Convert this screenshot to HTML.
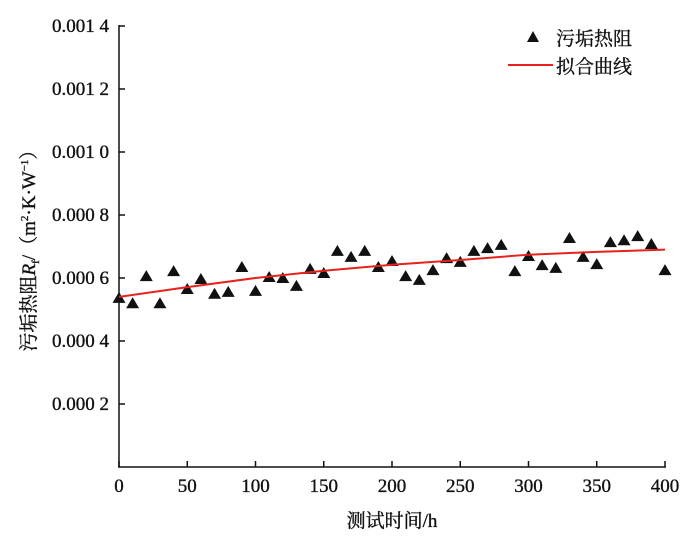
<!DOCTYPE html>
<html><head><meta charset="utf-8"><style>
body{margin:0;background:#fff}
text{font-family:"Liberation Serif","Noto Serif CJK SC",serif;fill:#111;stroke:#111;stroke-width:0.35}
</style></head><body>
<svg width="700" height="538" id="c">
<g id="axes"></g><g id="marks"></g>
<g>
<polygon points="533,31 527,42 539,42" fill="#111"/>
<text x="556" y="45" font-size="19">污垢热阻</text>
<line x1="508" y1="65" x2="553" y2="65" stroke="#e8211c" stroke-width="2"/>
<text x="556" y="73" font-size="19">拟合曲线</text>
</g>
<text x="392" y="527" font-size="19" text-anchor="middle">测试时间/h</text>
<text transform="translate(35,246) rotate(-90)" font-size="19" text-anchor="middle">污垢热阻<tspan font-style="italic">R</tspan><tspan font-size="11" dy="4">f</tspan><tspan dy="-4">/（m</tspan><tspan font-size="11" dy="-7">2</tspan><tspan dy="7">·K·W</tspan><tspan font-size="11" dy="-7">−1</tspan><tspan dy="7">）</tspan></text>
</svg>
<script>
const xValues=[0,10,20,30,40,50,60,70,80,90,100,110,120,130,140,150,160,170,180,190,200,210,220,230,240,250,260,270,280,290,300,310,320,330,340,350,360,370,380,390,400];
const rfValues=[0.000537,0.00052,0.000606,0.00052,0.000622,0.000565,0.000597,0.00055,0.000556,0.000635,0.000559,0.000603,0.0006,0.000575,0.000629,0.000616,0.000686,0.000667,0.000686,0.000635,0.000654,0.000606,0.000594,0.000625,0.000663,0.000651,0.000686,0.000695,0.000705,0.000622,0.00067,0.000641,0.000632,0.000727,0.000667,0.000644,0.000714,0.00072,0.000733,0.000708,0.000625];
const fitX=[0,50,100,150,200,250,300,350,400];
const fitValues=[0.00054,0.000571,0.0006,0.000623,0.000642,0.000657,0.000674,0.000683,0.00069];
const xTicks=[0,50,100,150,200,250,300,350,400];
const yTicks=[0.0002,0.0004,0.0006,0.0008,0.0010,0.0012,0.0014];
const yTickLabels=["0.000 2","0.000 4","0.000 6","0.000 8","0.001 0","0.001 2","0.001 4"];
const X=v=>119+v*(665-119)/400, Y=v=>467-v/0.0002*63;
const NS="http://www.w3.org/2000/svg";
const ax=document.getElementById('axes'), mk=document.getElementById('marks');
function mkEl(t,a,p){const e=document.createElementNS(NS,t);for(const k in a)e.setAttribute(k,a[k]);p.appendChild(e);return e;}
let e=mkEl('line',{x1:119,y1:25,x2:119,y2:467,stroke:'#111','stroke-width':1.5},ax);


e=mkEl('line',{x1:118,y1:467,x2:666,y2:467,stroke:'#111','stroke-width':1.5},ax);


xTicks.forEach(v=>{
 mkEl('line',{x1:X(v),y1:467,x2:X(v),y2:461,stroke:'#111','stroke-width':1.5},ax);
 const t=mkEl('text',{x:X(v),y:492,'font-size':19,'text-anchor':'middle'},ax);t.textContent=v;
 
 
});
yTicks.forEach((v,i)=>{
 mkEl('line',{x1:119,y1:Y(v),x2:125,y2:Y(v),stroke:'#111','stroke-width':1.5},ax);
 const t=mkEl('text',{x:109,y:Y(v)+6,'font-size':19,'text-anchor':'end'},ax);t.textContent=yTickLabels[i];
 
 
});
xValues.forEach((x,i)=>{
 const cx=X(x),cy=Y(rfValues[i]);
 const p=mkEl('polygon',{points:`${cx},${cy-6} ${cx-6.5},${cy+5} ${cx+6.5},${cy+5}`,fill:'#111'},mk);
 
 
});
const l=mkEl('polyline',{points:fitX.map((x,i)=>X(x)+','+Y(fitValues[i])).join(' '),fill:'none',stroke:'#e8211c','stroke-width':2},mk);


</script>
</body></html>
